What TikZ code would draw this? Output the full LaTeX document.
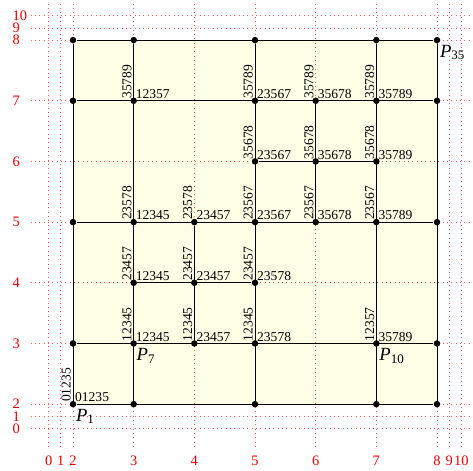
\documentclass[tikz,border=0pt]{standalone}
\usepackage{fontspec}
\setmainfont{Liberation Serif}
\usepackage{tikz}

\newcommand{\Pname}[1]{\textit{P}\textsubscript{#1}}

\begin{document}
\begin{tikzpicture}[
  x=1.18cm, y=1.18cm,
  dot/.style={circle, fill=black, inner sep=0pt, minimum size=3.6pt},
  seg/.style={draw=black, line width=0.5pt},
  helpgrid/.style={draw=red!65, dotted, line width=0.4pt},
  axlab/.style={text=red!90!black, font=\fontsize{8}{8}\selectfont, inner sep=0pt},
  hlab/.style={anchor=south west, inner sep=1pt, font=\fontsize{7.5}{8}\selectfont},
  vlab/.style={anchor=south west, rotate=90, inner sep=1pt, font=\fontsize{7.5}{8}\selectfont},
  plab/.style={anchor=north west, inner xsep=1.5pt, inner ysep=2.5pt, font=\fontsize{10.3}{11}\selectfont}
]
\useasboundingbox (0.797,0.914) rectangle (8.593,8.661);

% cell area
\fill[yellow!10] (2,2) rectangle (8,8);

% help grid and its numbers
\foreach \u/\t in {1.6/0,1.8/1,2/2,3/3,4/4,5/5,6/6,7/7,8/8,8.2/9,8.4/10} {
  \draw[helpgrid] (\u,1.3) -- (\u,8.661);
  \draw[helpgrid] (1.3,\u) -- (8.593,\u);
  \node[axlab] (bx\t) at (\u,1.07) {\t};
  \node[axlab, anchor=west] (ly\t) at (1.0,\u) {\t};
}

% vertices
\foreach \x/\y in {2/2,3/2,5/2,7/2,8/2, 2/3,3/3,4/3,5/3,7/3,8/3, 3/4,4/4,5/4,
                   2/5,3/5,4/5,5/5,6/5,7/5,8/5, 5/6,6/6,7/6,
                   2/7,3/7,5/7,6/7,7/7,8/7, 2/8,3/8,5/8,7/8,8/8}
  \node[dot] (p\x\y) at (\x,\y) {};

% horizontal edges
\draw[seg] (p22) -- (p82);
\draw[seg] (p23) -- (p83);
\draw[seg] (p34) -- (p54);
\draw[seg] (p25) -- (p85);
\draw[seg] (p56) -- (p76);
\draw[seg] (p27) -- (p87);
\draw[seg] (p28) -- (p88);
% vertical edges
\draw[seg] (p22) -- (p28);
\draw[seg] (p32) -- (p38);
\draw[seg] (p43) -- (p45);
\draw[seg] (p52) -- (p58);
\draw[seg] (p65) -- (p67);
\draw[seg] (p72) -- (p78);
\draw[seg] (p82) -- (p88);

% vertex labels: upward / rightward
\foreach \x/\y/\v/\h in {2/2/01235/01235, 3/3/12345/12345, 4/3/12345/23457,
    5/3/12345/23578, 7/3/12357/35789, 3/4/23457/12345, 4/4/23457/23457,
    5/4/23457/23578, 3/5/23578/12345, 4/5/23578/23457, 5/5/23567/23567,
    6/5/23567/35678, 7/5/23567/35789, 5/6/35678/23567, 6/6/35678/35678,
    7/6/35678/35789, 3/7/35789/12357, 5/7/35789/23567, 6/7/35789/35678,
    7/7/35789/35789} {
  \node[vlab] (r\x\y) at (p\x\y.center) {\v};
  \node[hlab] (h\x\y) at (p\x\y.center) {\h};
}

\node[plab] (P1) at (p22.center) {\Pname{1}};
\node[plab] (P7) at (p33.center) {\Pname{7}};
\node[plab] (P10) at (p73.center) {\Pname{10}};
\node[plab] (P35) at (p88.center) {\Pname{35}};
\end{tikzpicture}
\end{document}
